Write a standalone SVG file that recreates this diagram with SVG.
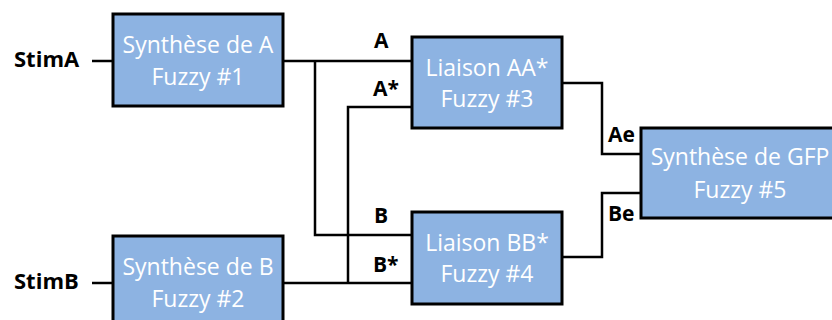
<svg xmlns="http://www.w3.org/2000/svg" width="832" height="320" viewBox="0 0 832 320">
<style>
.box{fill:#8DB3E2;stroke:#000;stroke-width:3}
.bt{font-family:"Open Sans","Liberation Sans",sans-serif;font-size:23px;fill:#fff;text-anchor:middle}
.lbl{font-family:"Open Sans","Liberation Sans",sans-serif;font-size:21px;font-weight:bold;fill:#000}
.w{fill:none;stroke:#000;stroke-width:2.5}
</style>
<rect width="832" height="320" fill="#fff"/>
<g id="connectors">
<path class="w" d="M92 61H113"/>
<path class="w" d="M92 283H113"/>
<path class="w" d="M283 61H412"/>
<path class="w" d="M315 61V235H412"/>
<path class="w" d="M283 283H412"/>
<path class="w" d="M412 107H348V283"/>
<path class="w" d="M562 83H602V154H641"/>
<path class="w" d="M562 257H602V193H641"/>
</g>
<g id="labels">
<text class="lbl" x="14" y="67" style="font-size:22px">StimA</text>
<text class="lbl" x="14" y="289" style="font-size:22px">StimB</text>
<text class="lbl" x="374" y="48">A</text>
<text class="lbl" x="373" y="96">A*</text>
<text class="lbl" x="374" y="223">B</text>
<text class="lbl" x="373" y="272">B*</text>
<text class="lbl" x="608" y="142">Ae</text>
<text class="lbl" x="608" y="221">Be</text>
</g>
<g id="node1">
<rect class="box" x="113" y="14" width="170" height="92"/>
<text class="bt" x="198" y="53">Synthèse de A</text>
<text class="bt" x="198" y="85">Fuzzy #1</text>
</g>
<g id="node2">
<rect class="box" x="113" y="236" width="170" height="92"/>
<text class="bt" x="198" y="275">Synthèse de B</text>
<text class="bt" x="198" y="307">Fuzzy #2</text>
</g>
<g id="node3">
<rect class="box" x="412" y="37" width="150" height="91"/>
<text class="bt" x="487" y="76">Liaison AA*</text>
<text class="bt" x="487" y="107">Fuzzy #3</text>
</g>
<g id="node4">
<rect class="box" x="412" y="212" width="150" height="92"/>
<text class="bt" x="487" y="251">Liaison BB*</text>
<text class="bt" x="487" y="282">Fuzzy #4</text>
</g>
<g id="node5">
<rect class="box" x="641" y="128" width="200" height="90"/>
<text class="bt" x="740" y="165">Synthèse de GFP</text>
<text class="bt" x="740" y="198">Fuzzy #5</text>
</g>
</svg>
